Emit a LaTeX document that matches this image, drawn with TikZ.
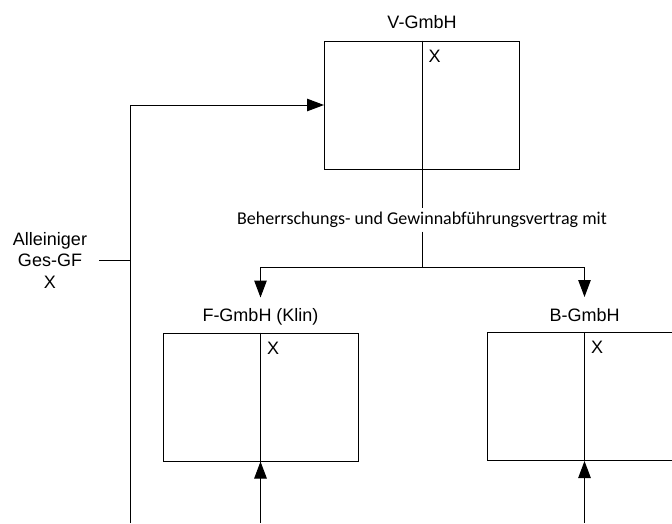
\documentclass[tikz,border=0pt]{standalone}
\usepackage{fontspec}
\setmainfont{Liberation Sans}
\newfontfamily\vertragfont{Carlito}
\usetikzlibrary{arrows.meta, positioning, calc}

\begin{document}
\begin{tikzpicture}[x=1pt,y=-1pt,>={Triangle[length=17pt,width=12.5pt]},line width=1pt,font=\fontsize{18}{21.5}\selectfont]
	\tikzset{gmbh/.style={draw, minimum width=195pt, minimum height=128pt, inner sep=0pt},
		firma/.style={inner sep=0pt, text depth=0pt},
		kreuz/.style={anchor=north west, inner sep=0pt}}
	\useasboundingbox (0,0) rectangle (672,523);
	\clip (0,0) rectangle (672,523);

	\node[gmbh] (v) at (422,105) {};
	\node[gmbh] (f) at (260.5,397) {};
	\node[gmbh] (b) at (584.5,396.5) {};
	\node[firma, above=12pt of v] (vname) {V-GmbH};
	\node[firma, above=10.5pt of f] (fname) {F-GmbH (Klin)};
	\node[firma, above=10.5pt of b] (bname) {B-GmbH};

	% Trennstrich und Kreuz in jeder Gesellschaft
	\foreach \g in {v,f,b}{
		\draw (\g.north) -- (\g.south);
		\node[kreuz] at ($(\g.north)+(6,9)$) {X};
	}

	\node[align=center] (gf) at (50,260) {Alleiniger\\Ges-GF\\X};
	\node[font=\vertragfont\fontsize{18}{21.5}\selectfont, inner sep=3pt, text height=13pt, text depth=4pt, anchor=base] (vertrag) at (422,224) {Beherrschungs- und Gewinnabführungsvertrag mit};

	\coordinate (gfstrich) at (99,260);
	\coordinate (links) at (130,523);
	\coordinate (split) at (422,267);

	\draw (gfstrich) -- (gfstrich -| links);
	\draw[->] (links) |- (v.west);
	\draw (v.south) -- (vertrag.north);
	\draw (vertrag.south) -- (split);
	\draw[->] (split) -| ($(f.north)+(0,-35)$);
	\draw[->] (split) -| ($(b.north)+(0,-35)$);
	\draw[<-] (f.south) -- (f.south |- links);
	\draw[<-] (b.south) -- (b.south |- links);
\end{tikzpicture}
\end{document}
